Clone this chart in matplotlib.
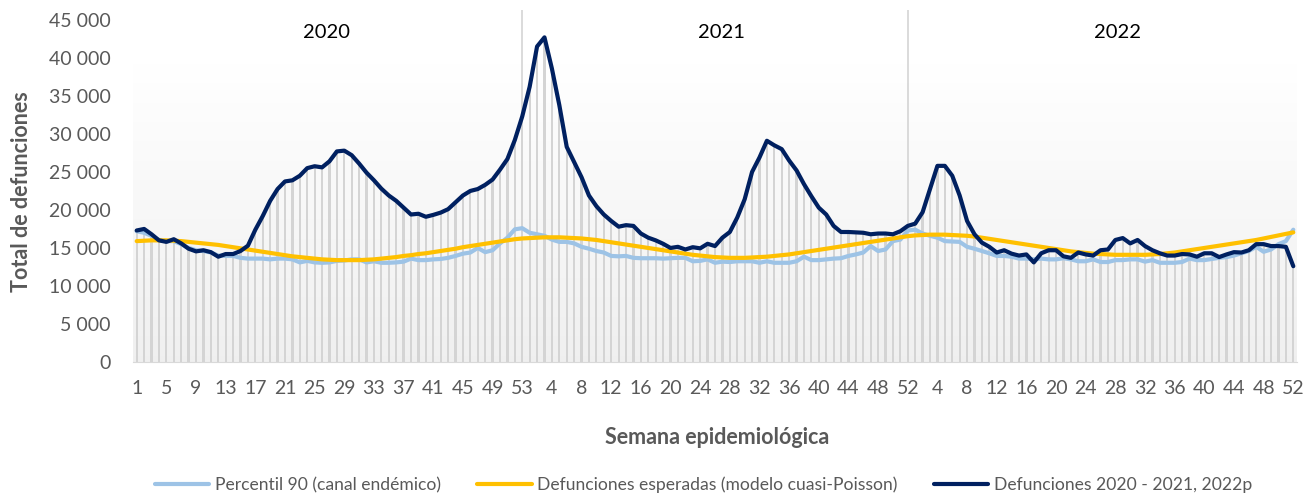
import numpy as np
import matplotlib
matplotlib.use("Agg")
import matplotlib.pyplot as plt

plt.rcParams['font.family'] = ['Lato', 'DejaVu Sans']

# Epidemiological weeks per year
years = ["2020", "2021", "2022"]
weeks_2020 = list(range(1, 54))
weeks_2021 = list(range(1, 53))
weeks_2022 = list(range(1, 53))

# Weekly deaths 2020 - 2021, 2022p
deaths = [
    17300, 17500, 16800, 16000, 15800, 16150, 15600, 14900, 14550, 14700,
    14450, 13850, 14200, 14200, 14600, 15300, 17400, 19200, 21200, 22750,
    23750, 23900, 24500, 25500, 25750, 25600, 26400, 27700, 27800, 27200,
    26100, 24900, 23900, 22800, 21900, 21200, 20300, 19400, 19500, 19100,
    19350, 19650, 20100, 21000, 21900, 22500, 22750, 23300, 24000, 25300,
    26700, 29200, 32300,
    36200, 41500, 42700, 38600, 33800, 28300, 26300, 24300, 21900, 20500,
    19400, 18550, 17800, 18000, 17900, 16900, 16350, 16000, 15550, 15000,
    15150, 14800, 15100, 14950, 15550, 15250, 16350, 17100, 19000, 21400,
    25000, 26900, 29100, 28500, 28000, 26500, 25200, 23400, 21800, 20300,
    19400, 17900, 17100, 17100, 17050, 17000, 16800, 16900, 16900, 16800,
    17200, 17900,
    18200, 19700, 22750, 25800, 25800, 24500, 21900, 18550, 16800, 15700,
    15150, 14400, 14700, 14250, 14000, 14150, 13100, 14300, 14700, 14700,
    13900, 13700, 14400, 14150, 14000, 14700, 14800, 16050, 16300, 15600,
    16050, 15250, 14700, 14300, 14000, 14000, 14200, 14150, 13850, 14300,
    14300, 13800, 14150, 14450, 14400, 14700, 15500, 15500, 15250, 15250,
    15150, 12600,
]

# Expected deaths (quasi-Poisson model)
expected = [
    15900, 15950, 16000, 16000, 16000, 15950, 15900, 15800, 15700, 15600,
    15500, 15400, 15250, 15100, 14950, 14800, 14650, 14500, 14350, 14200,
    14050, 13900, 13800, 13700, 13600, 13500, 13450, 13400, 13400, 13400,
    13400, 13450, 13500, 13600, 13700, 13800, 13950, 14050, 14200, 14300,
    14450, 14600, 14750, 14900, 15100, 15250, 15400, 15550, 15700, 15850,
    16000, 16150, 16250,
    16300, 16350, 16400, 16400, 16400, 16350, 16300, 16250, 16150, 16050,
    15900, 15750, 15600, 15450, 15300, 15150, 15000, 14850, 14700, 14550,
    14400, 14250, 14100, 14000, 13900, 13800, 13750, 13700, 13700, 13700,
    13750, 13800, 13850, 13950, 14050, 14150, 14300, 14450, 14600, 14750,
    14900, 15050, 15200, 15350, 15500, 15650, 15800, 15950, 16100, 16250,
    16400, 16550,
    16650, 16700, 16750, 16750, 16750, 16700, 16650, 16600, 16500, 16350,
    16200, 16050, 15900, 15750, 15600, 15450, 15300, 15150, 15000, 14850,
    14700, 14550, 14450, 14350, 14250, 14200, 14150, 14100, 14100, 14100,
    14100, 14100, 14150, 14200, 14300, 14400, 14550, 14700, 14850, 15000,
    15150, 15300, 15450, 15600, 15750, 15900, 16050, 16250, 16450, 16650,
    16850, 17050,
]

# 90th percentile (endemic channel)
p90 = [
    17200, 17000, 16600, 16050, 15900, 15900, 15500, 15000, 14700, 14600,
    14400, 14000, 13950, 13950, 13700, 13600, 13600, 13600, 13500, 13600,
    13600, 13500, 13100, 13300, 13100, 13050, 13100, 13300, 13350, 13500,
    13500, 13100, 13250, 13050, 13050, 13100, 13200, 13600, 13400, 13400,
    13500, 13550, 13700, 13950, 14250, 14400, 15000, 14450, 14700, 15600,
    16350, 17450, 17600,
    17000, 16800, 16600, 16100, 15800, 15800, 15600, 15150, 14900, 14600,
    14400, 13950, 13900, 13950, 13700, 13650, 13650, 13650, 13600, 13650,
    13700, 13700, 13250, 13300, 13500, 13050, 13200, 13150, 13250, 13250,
    13250, 13050, 13250, 13050, 13050, 13050, 13250, 13850, 13400, 13400,
    13500, 13600, 13650, 13950, 14150, 14400, 15250, 14600, 14800, 15900,
    16100, 17300,
    17400, 16900, 16600, 16350, 15900, 15850, 15800, 15150, 14900, 14600,
    14300, 13950, 13950, 13850, 13600, 13600, 13500, 13600, 13500, 13500,
    13650, 13500, 13250, 13250, 13500, 13150, 13150, 13400, 13400, 13500,
    13500, 13200, 13400, 13050, 13050, 13050, 13150, 13600, 13400, 13400,
    13550, 13700, 13800, 14000, 14300, 14600, 15150, 14500, 14800, 15500,
    15900, 17400,
]

week_labels = weeks_2020 + weeks_2021 + weeks_2022
x = np.arange(len(week_labels))

fig = plt.figure(figsize=(13.14, 4.93), dpi=100)
ax = fig.add_axes([133 / 1314, 1 - 362 / 493, 1164 / 1314, 352 / 493])

# soft gray gradient behind the bars
grad = np.linspace(0.94, 1.0, 256).reshape(-1, 1)
ax.imshow(np.dstack([grad, grad, grad]), extent=(-0.5, len(x) - 0.5, 0, 39300),
          aspect='auto', origin='lower', zorder=0)

ax.bar(x, deaths, width=0.3, color='#d4d4d4', zorder=1)

# year separators (last week of 2020 and 2021)
for sep in [len(weeks_2020) - 1, len(weeks_2020) + len(weeks_2021) - 1]:
    ax.axvline(sep, color='#d4d4d4', lw=1.2, zorder=1)

ax.plot(x, p90, color='#9dc3e6', lw=3.0, zorder=2, solid_capstyle='round',
        label='Percentil 90 (canal endémico)')
ax.plot(x, expected, color='#ffc000', lw=3.0, zorder=3, solid_capstyle='round',
        label='Defunciones esperadas (modelo cuasi-Poisson)')
ax.plot(x, deaths, color='#002060', lw=3.0, zorder=4, solid_capstyle='round',
        label='Defunciones 2020 - 2021, 2022p')

# year labels
year_pos = [25.6, 78.9, 132.3]
for yr, xp in zip(years, year_pos):
    ax.text(xp, 43400, yr, ha='center', va='center', fontsize=14.5, color='black')

ax.set_xlim(-0.5, len(x) - 0.5)
ax.set_ylim(0, 46300)

ax.set_xticks(x[::4])
ax.set_xticklabels([str(w) for w in week_labels[::4]])
yt = np.arange(0, 45001, 5000)
ax.set_yticks(yt)
ax.set_yticklabels([f"{v:,}".replace(",", " ") for v in yt])
ax.tick_params(axis='both', length=0, labelsize=14, labelcolor='#595959')
ax.tick_params(axis='x', pad=13)
ax.tick_params(axis='y', pad=16)

for s in ['top', 'right', 'left']:
    ax.spines[s].set_visible(False)
ax.spines['bottom'].set_color('#d9d9d9')
ax.patch.set_alpha(0)

fig.text(22 / 1314, 1 - 192 / 493, 'Total de defunciones', rotation=90,
         ha='center', va='center', fontsize=15.5, fontweight='bold', color='#595959')
fig.text(717 / 1314, 1 - 438 / 493, 'Semana epidemiológica',
         ha='center', va='center', fontsize=15.5, fontweight='bold', color='#595959')

leg = fig.legend(loc='center', bbox_to_anchor=(0.5354, 8 / 493), ncol=3, frameon=False,
                 fontsize=12.6, handlelength=3.1, handletextpad=0.3, columnspacing=2.1)
for t in leg.get_texts():
    t.set_color('#595959')

fig.savefig('out.png', dpi=100)
